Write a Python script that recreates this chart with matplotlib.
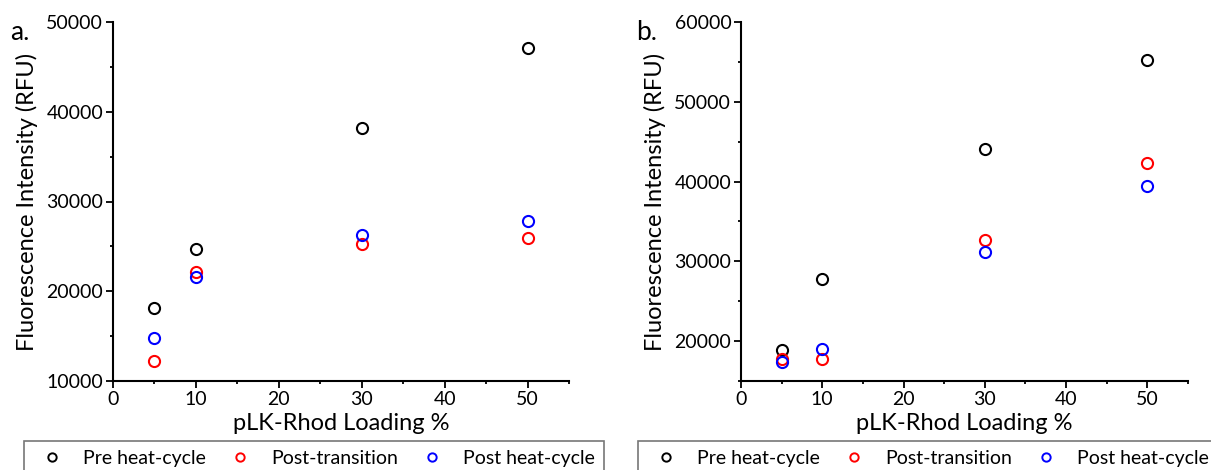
import matplotlib.pyplot as plt
from matplotlib.ticker import MultipleLocator
from matplotlib.lines import Line2D

plt.rcParams["font.family"] = ["Lato", "DejaVu Sans"]

# loading (%) shared by both panels
loading = [5, 10, 30, 50]

# panel a
a_pre = [18100, 24700, 38200, 47100]
a_transition = [12200, 22100, 25300, 25900]
a_post = [14800, 21600, 26300, 27800]

# panel b
b_pre = [18900, 27800, 44100, 55200]
b_transition = [17700, 17800, 32700, 42300]
b_post = [17400, 19000, 31200, 39500]

series_names = ["Pre heat-cycle", "Post-transition", "Post heat-cycle"]
series_colors = ["black", "red", "blue"]

W, H = 1211, 470
fig = plt.figure(figsize=(W / 100, H / 100), dpi=100)

ax_a = fig.add_axes([113 / W, (H - 381) / H, (569 - 113) / W, (381 - 22) / H])
ax_b = fig.add_axes([741 / W, (H - 381) / H, (1188 - 741) / W, (381 - 22) / H])


def draw_panel(ax, ys, ylim, ymajor, letter, letter_x, legend_left):
    for y, c, name in zip(ys, series_colors, series_names):
        ax.plot(loading, y, linestyle="none", marker="o", markersize=8,
                markerfacecolor="none", markeredgecolor=c, markeredgewidth=1.5,
                label=name)
    ax.set_xlim(0, 55)
    ax.set_ylim(*ylim)
    ax.xaxis.set_major_locator(MultipleLocator(10))
    ax.xaxis.set_minor_locator(MultipleLocator(5))
    ax.yaxis.set_major_locator(MultipleLocator(ymajor))
    ax.yaxis.set_minor_locator(MultipleLocator(ymajor / 2))
    for side in ("top", "right"):
        ax.spines[side].set_visible(False)
    for side in ("left", "bottom"):
        ax.spines[side].set_linewidth(1.5)
    ax.tick_params(which="major", direction="out", length=5, width=1.3,
                   labelsize=14, colors="black", pad=2)
    ax.tick_params(which="minor", direction="out", length=2.5, width=1.3)
    ax.set_xlabel("pLK-Rhod Loading %", fontsize=17, labelpad=4)
    ax.set_ylabel("Fluorescence Intensity (RFU)", fontsize=17, labelpad=6)
    fig.text(letter_x / W, (H - 40) / H, letter, fontsize=19, va="baseline")

    handles = [Line2D([], [], linestyle="none", marker="o", markersize=6,
                      markerfacecolor="none", markeredgecolor=c,
                      markeredgewidth=1.4) for c in series_colors]
    leg = fig.legend(handles, series_names, ncol=3, loc="upper left",
                     bbox_to_anchor=(legend_left / W, (H - 441) / H),
                     frameon=True, fancybox=False, fontsize=14,
                     handlelength=2.0, handletextpad=0.6, columnspacing=0.75,
                     borderpad=0.45, borderaxespad=0)
    leg.get_frame().set_edgecolor("#555555")
    leg.get_frame().set_linewidth(1.2)


draw_panel(ax_a, [a_pre, a_transition, a_post], (10000, 50000), 10000, "a.", 10, 24)
draw_panel(ax_b, [b_pre, b_transition, b_post], (15000, 60000), 10000, "b.", 636, 638)

fig.savefig("out.png", dpi=100)
